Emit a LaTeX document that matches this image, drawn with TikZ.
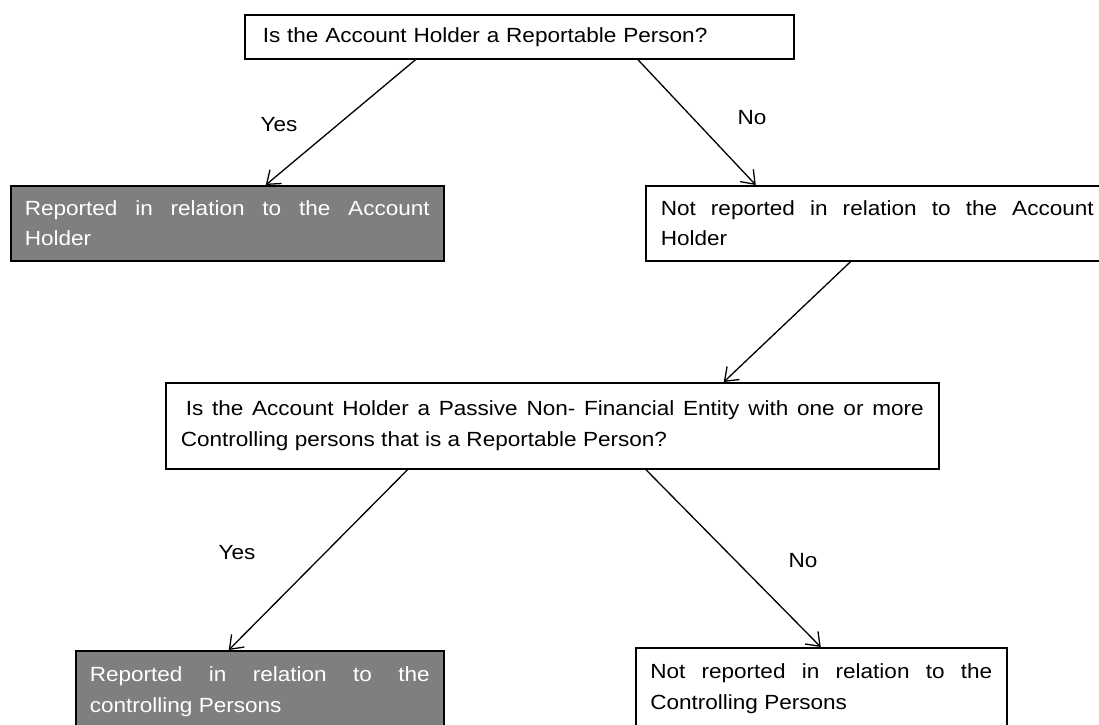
\documentclass[tikz,border=0pt]{standalone}
\usepackage{fontspec}
\setmainfont{Liberation Sans}[FakeStretch=1.10]
\usetikzlibrary{arrows.meta}
\definecolor{boxgray}{RGB}{127,127,127}
\tolerance=10000
\hbadness=10000
\hyphenpenalty=10000
\exhyphenpenalty=10000
\begin{document}
\begin{tikzpicture}[x=1pt,y=-1pt,
  txt/.style={font=\fontsize{20.5}{30.5}\selectfont},
  box/.style={txt, draw=black, line width=1.5pt, rectangle, anchor=north west,
              inner ysep=0pt, align=justify},
  darkbox/.style={box, fill=boxgray, text=white},
  lab/.style={txt, inner sep=0pt},
  arr/.style={-{Straight Barb[length=12pt,width=18pt,line width=1.3pt]}, line width=1.3pt}]
\useasboundingbox (0,0) rectangle (1099,724);
\fill[white] (0,0) rectangle (1099,724);
\clip (0,0) rectangle (1099,724);

\node[box, align=left, text width=513pt, inner xsep=18pt, minimum height=44pt] (q1) at (244,14)
  {Is the Account Holder a Reportable Person?};
\node[darkbox, text width=405pt, inner xsep=14pt, minimum height=75pt] (r1) at (10,185)
  {Reported in relation to the Account Holder};
\node[box, text width=433pt, inner xsep=15pt, minimum height=75pt] (n1) at (645,185)
  {Not reported in relation to the Account Holder};
\node[box, text width=743pt, inner xsep=15pt, minimum height=86pt] (q2) at (165,382)
  {\hspace*{5pt}Is the Account Holder a Passive Non- Financial Entity with one or more Controlling persons that is a Reportable Person?\par\vspace*{10pt}};
\node[darkbox, text width=340pt, inner xsep=14pt, minimum height=82pt] (r2) at (75,650)
  {Reported in relation to the controlling Persons};
\node[box, text width=342pt, inner xsep=14.5pt, minimum height=82pt] (n2) at (635,647)
  {Not reported in relation to the Controlling Persons};

\draw[arr] ([xshift=-103.5pt]q1.south) -- ([xshift=38.5pt]r1.north);
\draw[arr] ([xshift=118.5pt]q1.south) -- ([xshift=-121.5pt]n1.north);
\draw[arr] ([xshift=-26.5pt]n1.south) -- ([xshift=171.5pt]q2.north);
\draw[arr] ([xshift=-144.5pt]q2.south) -- ([xshift=-31pt]r2.north);
\draw[arr] ([xshift=93.5pt]q2.south) -- ([xshift=-0.5pt]n2.north);

\node[lab] (yes1) at (279,125) {Yes};
\node[lab] (no1) at (752,118) {No};
\node[lab] (yes2) at (237,553) {Yes};
\node[lab] (no2) at (803,561) {No};
\end{tikzpicture}
\end{document}
